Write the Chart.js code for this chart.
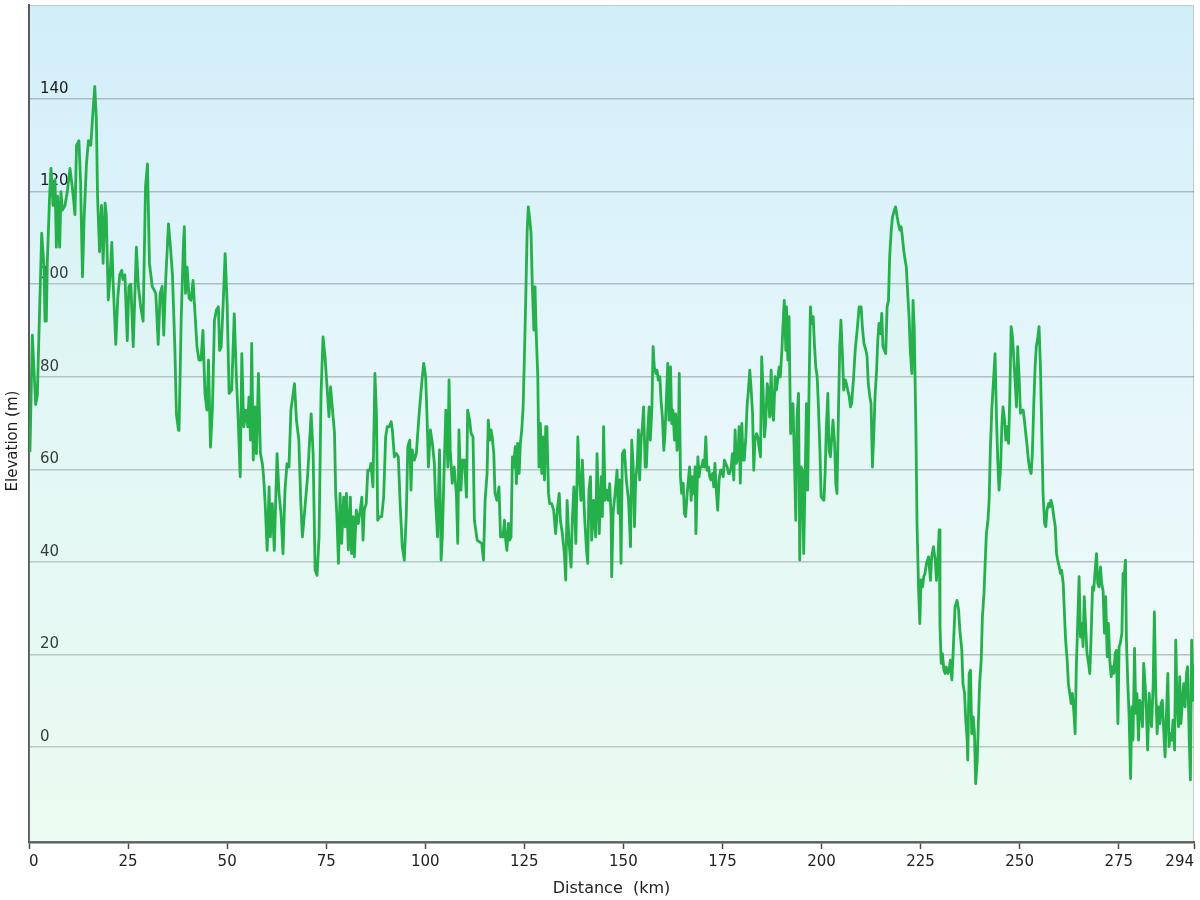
<!DOCTYPE html>
<html>
<head>
<meta charset="utf-8">
<title>Elevation profile</title>
<script src="https://cdn.jsdelivr.net/npm/chart.js@4/dist/chart.umd.min.js"></script>
<style>
  html, body { margin: 0; padding: 0; background: #fff; }
  #wrap { width: 1200px; height: 900px; position: relative; }
</style>
</head>
<body>
<div id="wrap"><canvas id="profileChart"></canvas></div>
<script>
// Distance along the route (km) and elevation (m)
const distanceKm = [
    0, 0.25, 0.84, 1.68, 2.1, 3.2, 3.78, 4.04, 4.37, 4.63, 5.2, 5.55, 6.06, 6.56, 6.9, 7.23, 7.74, 8.07, 8.41, 9.08,
    9.67, 10.34, 10.93, 11.6, 12.0, 12.6, 13.0, 13.5, 13.9, 14.5, 15.0, 15.6, 16.0, 16.6, 17.0, 17.3, 17.8, 18.3, 18.7, 19.2,
    19.5, 20.0, 20.4, 20.9, 21.2, 21.9, 22.4, 22.9, 23.4, 23.7, 24.2, 24.8, 25.2, 25.7, 26.3, 27.1, 27.6, 28.2, 28.8, 29.4,
    29.9, 30.4, 31.1, 32.0, 32.6, 33.1, 33.6, 34.0, 34.5, 35.2, 35.7, 36.2, 36.8, 37.2, 37.7,
    37.86, 38.4, 38.95, 39.2, 39.5, 39.9, 40.4, 40.9, 41.4, 41.9, 42.4, 42.9, 43.4, 43.9, 44.4, 44.9, 45.3, 45.8, 46.3, 46.8,
    47.3, 47.8, 48.1, 48.5, 49.0, 49.5, 50.0, 50.5, 51.15, 51.8, 52.3, 52.8, 53.3, 53.7, 54.2, 54.7, 55.2, 55.5, 55.9, 56.2,
    56.6, 57.0, 57.4, 57.9, 58.4, 58.9, 59.2, 59.6, 60.1, 60.6, 60.9, 61.4, 61.9, 62.6, 63.1, 63.6, 64.1, 64.6, 65.1, 65.6,
    66.1, 67.0, 67.5, 68.1, 68.6, 69.0, 69.65, 70.3, 71.2, 71.7, 72.2, 72.7, 73.2, 73.7, 74.2,
    74.71, 75.1, 75.7, 76.1, 76.6, 77.1, 77.4, 77.7, 78.1, 78.5, 78.9, 79.4, 79.75, 80.1, 80.6, 81.1, 81.4, 81.8, 82.1, 82.6,
    83.1, 83.6, 84.0, 84.3, 84.6, 85.1, 85.5, 86.0, 86.3, 86.8, 87.3, 87.7, 88.0, 88.5, 89.0, 89.5, 90.0, 90.4, 90.9, 91.4,
    91.7, 92.2, 92.7, 93.2, 93.7, 94.2, 94.7, 95.2, 95.6, 96.1, 96.4, 96.7, 97.25, 97.75, 98.4, 99.1, 99.6, 100.1, 100.45, 100.8,
    101.3, 101.8, 102.3, 102.6, 103.1, 103.6, 104.0, 104.3, 104.8, 105.2, 105.7, 106.0, 106.3, 106.8, 107.3, 107.85, 108.2, 108.5, 109.0, 109.4,
    109.9, 110.4, 110.7, 111.2, 111.55, 112.05, 112.4, 113.1,
    113.75, 114.25, 114.7, 115.1, 115.6, 115.9, 116.3, 116.6, 116.9, 117.3, 117.6, 118.1, 118.6, 119.0, 119.3, 119.6, 120.0, 120.3, 120.6, 121.0,
    121.3, 121.65, 122.0, 122.3, 122.7, 123.0, 123.3, 123.7, 124.0, 124.35, 124.7, 125.0, 125.35, 125.7, 126.0, 126.4, 126.7, 127.0, 127.4, 127.7,
    128.0, 128.4, 128.7, 129.05, 129.4, 129.7, 130.1, 130.4, 130.7, 131.1, 131.4, 131.9, 132.4, 132.9, 133.4, 133.8, 134.1, 134.6, 135.1, 135.45,
    135.8, 136.3, 136.8, 137.1, 137.5, 138.0, 138.5, 138.8, 139.3, 139.65, 140.2, 140.7, 141.0, 141.3, 141.7, 142.0, 142.5, 143.0, 143.35, 143.9,
    144.4, 144.7, 145.0, 145.4, 145.9, 146.2, 146.55, 146.9, 147.05, 147.4, 147.9, 148.4, 148.7, 149.1, 149.4, 149.75, 150.25, 150.75, 151.3,
    151.8, 152.1, 152.45, 152.8, 153.1, 153.5, 153.8, 154.1, 154.5, 154.8, 155.1, 155.5, 155.8, 156.15, 156.5, 156.8, 157.2, 157.5, 157.8, 158.2,
    158.5, 158.8, 159.2, 159.5, 159.85, 160.2, 160.5, 160.9, 161.2, 161.5, 161.9, 162.2, 162.5, 162.9, 163.2, 163.55, 163.9, 164.1, 164.4, 164.7,
    165.1, 165.4, 165.7, 166.1, 166.4, 166.7, 167.1, 167.4, 167.8, 168.1, 168.3, 168.8, 169.1, 169.4, 169.8, 170.1, 170.45, 170.8, 171.1, 171.5,
    171.8, 172.1, 172.5, 172.8, 173.1, 173.5, 173.8, 174.15, 174.5, 174.8, 175.2, 175.5, 175.8, 176.2, 176.5, 176.8, 177.2, 177.5, 177.85, 178.2,
    178.5, 178.9, 179.2, 179.5, 179.9, 180.2, 180.5, 180.9, 181.2, 181.55, 181.9, 182.2, 182.6, 182.9, 183.2, 183.6, 183.9, 184.2, 184.6, 184.9,
    185.25, 185.6, 185.9, 186.3, 186.6, 186.9, 187.3, 187.6, 187.9, 188.3, 188.6, 188.95, 189.3,
    189.6, 190.0, 190.3, 190.6, 191.0, 191.15, 191.5, 191.8, 192.2, 192.5, 192.8, 193.2, 193.5, 193.8, 194.2, 194.5, 194.85, 195.2, 195.5, 195.9,
    196.2, 196.5, 196.9, 197.2, 197.5, 197.9, 198.2, 198.55, 198.9, 199.2, 199.6, 199.9, 200.6, 200.9, 201.2, 201.6, 201.9, 202.25, 202.6, 202.9,
    203.3, 203.6, 203.9, 204.3, 204.6, 204.9, 205.3, 205.6, 206.0, 206.3, 206.6, 207.0, 207.3, 207.6, 208.1, 208.5, 209.0, 209.5, 210.0, 210.3,
    210.7, 211.2, 211.5, 211.8, 212.2, 212.5, 212.85, 213.2, 213.5, 213.9, 214.2, 214.5, 214.9, 215.2, 215.5, 215.9, 216.2, 216.55, 216.9, 217.2,
    217.6, 217.9, 218.4, 218.7, 219.1, 219.4, 219.75, 220.1, 220.4, 220.75, 221.1, 221.4, 221.8, 222.1, 222.4, 222.8, 223.1, 223.4, 223.8, 224.1,
    224.5, 224.8, 225.1, 225.5, 225.8, 226.1, 226.5, 227.0,
    227.5, 227.8, 228.25, 228.7, 229.0, 229.35, 229.7, 229.9, 230.2, 230.5, 230.9, 231.2, 231.5, 231.9, 232.2, 232.5, 232.9, 233.2, 233.7, 234.2,
    234.6, 234.9, 235.4, 235.7, 236.1, 236.4, 236.75, 236.9, 237.25, 237.6, 237.9, 238.3, 238.6, 238.9, 239.3, 239.6, 239.9, 240.3, 240.6, 241.0,
    241.3, 241.6, 242.0, 242.3, 242.6, 243.0, 243.5, 243.8, 244.15, 244.5, 244.8, 245.2, 245.5, 245.8, 246.2, 246.5, 246.8, 247.2, 247.5, 247.85,
    248.2, 248.5, 248.9, 249.2, 249.5, 249.9, 250.2, 250.5, 250.9, 251.2, 251.55, 251.9, 252.2, 252.6, 252.9, 253.2, 253.6, 253.9, 254.2, 254.6,
    254.9, 255.25, 255.6, 255.9, 256.3, 256.6, 256.9, 257.3, 257.6, 257.9, 258.3, 258.6, 259.0, 259.3, 259.6, 260.0, 260.3, 260.6, 261.0, 261.3,
    261.6, 262.0, 262.3, 262.65, 263.0, 263.3, 263.7, 264.0, 264.3, 264.7, 265.0,
    265.35, 265.7, 266.0, 266.3, 266.7, 267.0, 267.4, 267.7, 268.0, 268.4, 268.7, 269.05, 269.4, 269.7, 270.05, 270.4, 270.7, 271.05, 271.4, 271.7,
    272.1, 272.4, 272.75, 273.1, 273.4, 273.75, 274.1, 274.4, 274.8, 275.1, 275.4, 275.8, 276.1, 276.45, 276.7, 276.95, 277.3, 277.6, 278.0, 278.3,
    278.6, 279.0, 279.3, 279.6, 280.0, 280.3, 280.65, 281.0, 281.3, 281.7, 282.0, 282.3, 282.7, 283.0, 283.3, 283.7, 284.0, 284.35, 284.7, 285.0,
    285.4, 285.7, 286.0, 286.4, 286.7, 287.05, 287.4, 287.7, 288.05, 288.4, 288.7, 289.1, 289.4, 289.7, 290.1, 290.4, 290.7, 291.1, 291.4, 291.75,
    292.1, 292.4, 292.8, 293.1, 293.4, 293.8, 294
];

const elevationM = [
    65, 64, 89, 74, 76, 111, 104, 92, 92, 105, 119, 125, 117, 122.5, 108, 119, 108, 120, 116, 117,
    120, 125, 121, 115, 130, 131, 122.5, 101.6, 114, 126, 131, 130, 135.5, 142.7, 135.5, 119, 107, 117, 104.5, 117.5,
    115, 96.6, 101, 109, 101, 87, 97, 102, 103, 101, 102, 87.8, 99.5, 100, 86.5, 108, 99.5, 95, 92, 121,
    126, 104.5, 99.5, 98, 87, 98, 99.5, 89, 101, 113, 108, 102, 86.5, 72, 68.5,
    68.4, 92.2, 108, 112.4, 98, 103.7, 97, 96.5, 100.8, 93.6, 86.4, 83.6, 83.6, 90, 76.4, 72.8, 83.6, 64.8, 73.5, 92.2,
    94.4, 95.1, 85.7, 86.4, 95.8, 106.6, 95.8, 76.4, 77.1, 93.6, 80.7, 70.6, 58.4, 85, 69.2, 72.8, 69.2, 75.6, 66.3, 87.2,
    62, 73.5, 63.4, 80.7, 63.4, 61.2, 58.4, 52.6, 42.5, 56.2, 45.4, 52.6, 42.5, 63.4, 54.8, 50.4, 41.8, 55.5, 61.2, 60.5,
    72.8, 78.5, 70.6, 66.3, 52.6, 45.4, 51.9, 58.4, 72, 63.4, 38.2, 37.1, 45.4, 76.4, 88.6,
    84.3, 79.3, 71.4, 77.8, 72.8, 67.8, 54.8, 49.8, 39.7, 54.8, 44, 54, 47.6, 54.8, 42.6, 54, 41.8, 49.8, 41.1, 51.2,
    48.3, 51.2, 54, 44.7, 51.2, 52.6, 59.8, 59.8, 61.3, 56.2, 80.7, 71.4, 49, 49.8, 49.8, 54, 67, 69.2, 69.2, 70.3,
    68.5, 62.7, 63.4, 62.7, 51.9, 43.3, 40.4, 49.8, 64.9, 66.3, 55.5, 64.2, 62, 63.4, 71.4, 78.5, 82.9, 80, 71.4, 60.5,
    68.5, 65.6, 61.3, 53.3, 45.4, 64.2, 40.4, 45.4, 61.3, 72.8, 60.5, 79.3, 64.2, 57, 60.5, 54.8, 44, 68.5, 55.5, 62,
    62, 54, 72.8, 70.6, 67.8, 67, 49, 44.7,
    44.3, 44, 40.4, 53.3, 59.1, 70.6, 66.3, 68.5, 67, 63.4, 54.8, 53.3, 56.2, 45.4, 46.1, 45.4, 49, 44.7, 42.5, 48.3,
    44.7, 45.4, 62.7, 60.5, 64.9, 56.9, 65.6, 59.1, 65.6, 68.5, 73.5, 83.6, 96.5, 111, 116.7, 113.8, 111, 100.1, 90.1, 99.4,
    89.4, 80, 60.5, 69.9, 59.1, 67, 57.7, 69.2, 69.2, 54.8, 52.6, 52.6, 51.2, 46.1, 51.9, 54.8, 49, 46.1, 41.8, 36.1,
    53.3, 44, 38.9, 49, 56.2, 44, 67, 59.1, 53.3, 62, 49.8, 42.5, 39.7, 55.5, 58.4, 44.7, 53.3, 45.4, 63.4, 46.1,
    58.4, 49.8, 69.2, 53.3, 55.5, 53.3, 56.9, 49.8, 36.8, 50.5, 54.8, 59.8, 50.5, 57.7, 39.7, 63.4, 64.2, 57.7, 53.3,
    43.3, 66.3, 61.3, 47.6, 57.7, 61.3, 68.5, 57.7, 67, 69.2, 73.5, 60.5, 60.5, 68.5, 73.5, 66.3, 73.5, 86.5, 82.1, 80.7,
    81.4, 79.3, 80, 74.9, 71.3, 64.1, 67.7, 76.4, 82.9, 70.6, 82.1, 69.9, 72.8, 66.3, 72, 64.1, 67.7, 80.7, 58.4, 54.8,
    57, 50.5, 49.8, 54.8, 57.7, 60.5, 53.3, 58.4, 54.8, 60.5, 46.1, 62.7, 58.4, 60.5, 60.5, 62, 60.5, 67, 59.8, 60.5,
    58.4, 57.7, 59.1, 56.2, 61.3, 54.8, 51.2, 57.7, 59.8, 59.8, 58.4, 62, 61.3, 60.5, 59.1, 59.1, 60.5, 63.4, 57.7, 68.5,
    61.3, 62.7, 69.2, 57, 69.9, 62, 62, 67, 73.5, 77.1, 81.4, 77.8, 72, 59.8, 66.3, 67.7, 67, 64.9, 62.7, 84.3,
    77.1, 67, 69.9, 78.5, 77.1, 71.3, 81.4, 72, 70.6, 80, 77.1, 79.3, 82.1,
    80, 85.7, 91.5, 96.5, 85.7, 95.1, 83.6, 93, 67.7, 69.9, 74.2, 60.5, 49, 71.3, 76.4, 40.4, 60.5, 59.8, 41.8, 59.8,
    74.2, 55.5, 80, 95.1, 91.5, 93, 87.2, 82.1, 80, 74.2, 64.1, 54.1, 53.3, 59.1, 68.5, 76.4, 64.1, 62.7, 67, 70.6,
    65.6, 56.9, 54.8, 73.5, 86.5, 92.2, 84.3, 77.1, 79.3, 78.5, 77.1, 75.7, 73.5, 74.2, 80, 85.7, 90.1, 95.1, 95.1, 90.8,
    87.2, 85.7, 84.3, 78.5, 75.7, 74.2, 60.5, 67.7, 75.7, 81.4, 87.9, 91.5, 89.3, 93.7, 86.5, 85.7, 85, 95.1, 96.5, 105.9,
    111.7, 114.5, 116, 116.7, 114.5, 113.1, 111.7, 112.4, 110.2, 107.3, 105.2, 103.7, 97.3, 92.9, 85.7, 80.7, 96.5, 90.1, 69.9, 48.3,
    33.9, 26.7, 36.1, 34.6, 36.8, 37.5, 39.7, 41.1,
    36, 41.1, 43.3, 40.4, 36, 40.4, 46.9, 26, 18.1, 20.2, 16.6, 15.9, 17.3, 15.9, 16.6, 18.8, 14.5, 20.2, 30.3, 31.7,
    29.6, 25.3, 21, 13.7, 11.6, 5.8, 1.6, -2.8, 15.9, 16.6, 2.9, 6.5, 2.9, -7.9, -2.8, 5.8, 13.7, 18.8, 28.1, 33.2,
    39.7, 46.1, 49, 53.3, 64.1, 73.5, 80.7, 85, 71.3, 61.3, 55.5, 60.5, 69.2, 73.5, 70.6, 66.3, 69.2, 65.6, 75, 90.8,
    88.6, 84.3, 78.5, 73.5, 86.5, 79.3, 72.1, 72.8, 72.8, 70.6, 67.7, 64.9, 62, 59.8, 59.1, 63.4, 75, 82.1, 86.5, 88.6,
    90.8, 82.1, 67.7, 54.8, 48.3, 47.6, 51.2, 52.6, 51.9, 53.3, 51.9, 49.8, 47.6, 41.8, 40.4, 38.9, 37.5, 38.2, 35.3, 28.9,
    23.1, 18.8, 13.7, 11.6, 9.4, 11.6, 7.3, 2.9, 17.3, 28.1, 36.8,
    23.8, 26.7, 21.7, 32.5, 25.3, 20.2, 18.1, 15.9, 23.1, 34.6, 33.9, 38.2, 41.8, 35.4, 34.6, 38.9, 35.4, 33.9, 24.6, 32.5,
    19.5, 26.7, 18.8, 15.2, 17.4, 15.9, 20.2, 20.9, 5.1, 21.7, 22.4, 24.6, 37.5, 37.5, 40.4, 23.1, 13.7, 7.3, -6.8, 8.7,
    1.5, 21.3, 7.3, 11.6, 1.5, 10.1, 8.7, 4.4, 18.1, 13, 7.3, -0.6, 11.6, 7.3, 4.4, 13.7, 29.2, 12.3, 2.9, 8.7,
    5.1, 9.4, 10.1, 2.9, -2.1, 7.3, 15.9, 0.1, 2.9, 1.5, 5.8, -0.6, 23.1, 10.1, 4.4, 15.2, 5.1, 10.1, 13.7, 8.7,
    15.9, 17.4, 1.5, -7.1, 23.1, 10.1, 18
];

// Tick labels
const xTickValues = [0, 25, 50, 75, 100, 125, 150, 175, 200, 225, 250, 275, 294];
const yTickValues = [0, 20, 40, 60, 80, 100, 120, 140];
const yAxisTitle = 'Elevation (m)';

const FONT = "'DejaVu Sans', Verdana, sans-serif";
Chart.defaults.font.family = FONT;
Chart.defaults.font.size = 15;
Chart.defaults.color = '#222';

// Gradient behind the plot plus the thin light border top/right
const plotBackground = {
    id: 'plotBackground',
    beforeDraw(chart) {
        const {ctx, chartArea: {left, top, right, bottom}} = chart;
        const grad = ctx.createLinearGradient(0, top, 0, bottom);
        grad.addColorStop(0, '#d1eef9');
        grad.addColorStop(0.5, '#e7f7fb');
        grad.addColorStop(1, '#f1fcf6');
        ctx.save();
        ctx.fillStyle = grad;
        ctx.fillRect(left, top, right - left, bottom - top);
        ctx.strokeStyle = '#c3c8cb';
        ctx.lineWidth = 1;
        ctx.beginPath();
        ctx.moveTo(left, top + 0.5);
        ctx.lineTo(right - 0.5, top + 0.5);
        ctx.lineTo(right - 0.5, bottom);
        ctx.stroke();
        ctx.restore();
    }
};

// y tick labels sit inside the plot just above their grid line (under the line);
// the y title sits a bit below the middle like in the original
const yLabels = {
    id: 'yLabels',
    beforeDatasetsDraw(chart) {
        const {ctx, chartArea} = chart;
        const yScale = chart.scales.y;
        ctx.save();
        ctx.fillStyle = '#1a1a1a';
        ctx.font = '15px ' + FONT;
        ctx.textAlign = 'left';
        ctx.textBaseline = 'middle';
        yTickValues.forEach(v => {
            ctx.fillText(String(v), chartArea.left + 11, yScale.getPixelForValue(v) - 10);
        });
        ctx.translate(13, 441);
        ctx.rotate(-Math.PI / 2);
        ctx.textAlign = 'center';
        ctx.fillText(yAxisTitle, 0, 0);
        ctx.restore();
    }
};

const points = distanceKm.map((d, i) => ({x: d, y: elevationM[i]}));

new Chart(document.getElementById('profileChart').getContext('2d'), {
    type: 'line',
    data: {
        datasets: [{
            label: 'Elevation',
            data: points,
            borderColor: '#25b04b',
            backgroundColor: 'rgba(200, 245, 215, 0.15)',
            borderWidth: 2.8,
            borderJoinStyle: 'round',
            pointRadius: 0,
            tension: 0,
            fill: 'start'
        }]
    },
    options: {
        responsive: true,
        maintainAspectRatio: false,
        animation: false,
        layout: {
            padding: {top: 5, right: 6, left: 0, bottom: 0}
        },
        plugins: {
            legend: {display: false},
            tooltip: {enabled: false}
        },
        scales: {
            x: {
                type: 'linear',
                min: 0,
                max: 294,
                afterBuildTicks: (scale) => {
                    scale.ticks = xTickValues.map(v => ({value: v}));
                },
                afterFit: (scale) => {
                    scale.height = 58;
                    scale.paddingLeft = 0;
                    scale.paddingRight = 0;
                },
                grid: {
                    drawOnChartArea: false,
                    drawTicks: true,
                    tickLength: 7,
                    tickColor: '#4a4a4a',
                    tickWidth: 1.5
                },
                border: {color: '#5a5a5a', width: 2.5},
                ticks: {
                    align: 'inner',
                    autoSkip: false,
                    maxRotation: 0,
                    padding: 4,
                    color: '#222'
                },
                title: {
                    display: true,
                    text: 'Distance  (km)',
                    color: '#222',
                    font: {size: 16},
                    padding: {top: 0, bottom: 2}
                }
            },
            y: {
                min: -20.5,
                max: 160.3,
                afterBuildTicks: (scale) => {
                    scale.ticks = yTickValues.map(v => ({value: v}));
                },
                afterFit: (scale) => {
                    scale.width = 29;
                    scale.paddingTop = 0;
                    scale.paddingBottom = 0;
                },
                grid: {
                    color: 'rgba(100, 110, 115, 0.4)',
                    lineWidth: 1.5,
                    drawTicks: false
                },
                border: {color: '#5a5a5a', width: 2},
                ticks: {display: false},
                title: {display: false}
            }
        }
    },
    plugins: [plotBackground, yLabels]
});
</script>
</body>
</html>
